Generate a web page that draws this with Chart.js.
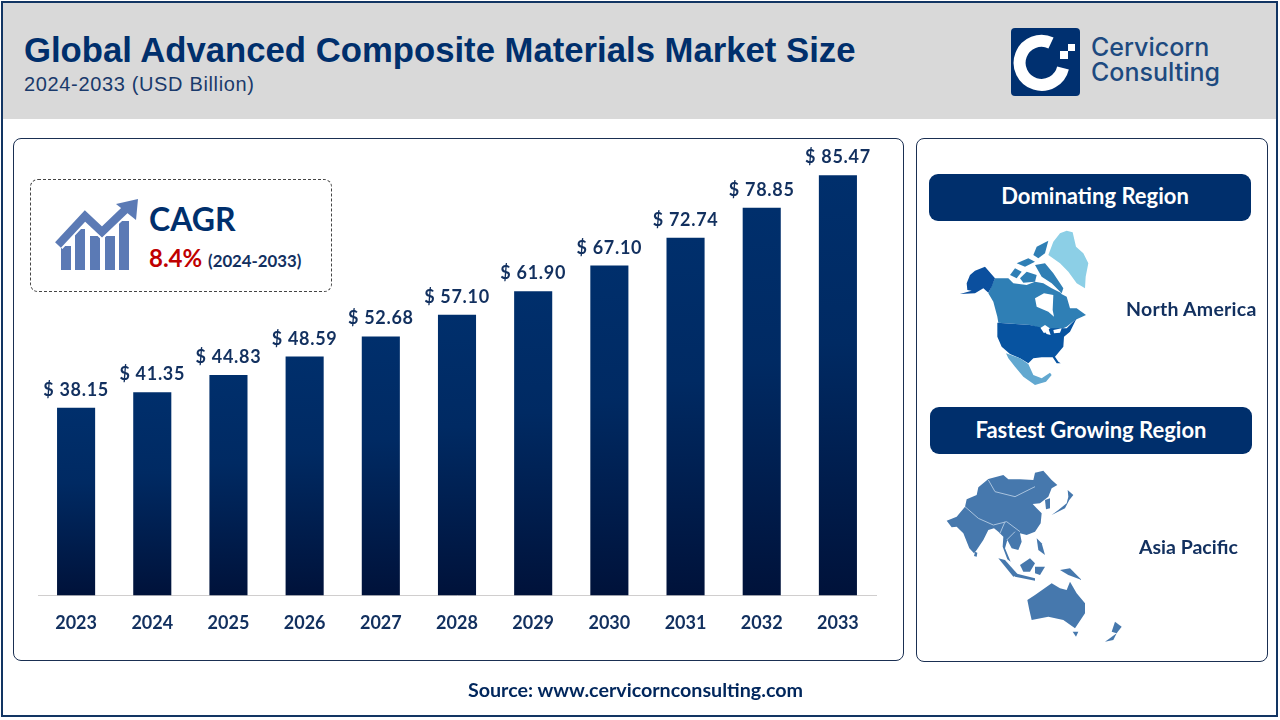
<!DOCTYPE html>
<html>
<head>
<meta charset="utf-8">
<title>Global Advanced Composite Materials Market Size</title>
<script src="https://cdn.jsdelivr.net/npm/chart.js@4"></script>
<style>
  html, body { margin: 0; padding: 0; background: #fff; }
  #page { position: relative; width: 1280px; height: 720px; overflow: hidden; background: #fff; }
  #page > * { position: absolute; box-sizing: border-box; }
  #miGrafico { left: 0; top: 0; }
  .frame { left: 1px; top: 1px; width: 1277px; height: 716px; border: 2px solid #123563; }
  .header { left: 3px; top: 3px; width: 1273px; height: 116px; background: #d9d9d9; }
  .title { left: 24px; top: 31px; font: bold 34.7px "Liberation Sans"; color: #002f6c; white-space: nowrap; }
  .subtitle { left: 24px; top: 73px; font: 20px "Liberation Sans"; letter-spacing: .65px; color: #1a3a6b; white-space: nowrap; }
  .panel { border: 1px solid #1a2f52; border-radius: 8px; }
  .left-panel { left: 13px; top: 138px; width: 891px; height: 523px; }
  .right-panel { left: 916px; top: 138px; width: 352px; height: 524px; }
  .cagr-box { left: 30px; top: 179px; width: 302px; height: 113px; border: 1px dashed #444; border-radius: 8px; }
  .cagr { left: 149px; top: 199px; font: bold 32px Lato; color: #002f6c; }
  .rate { left: 149px; top: 243px; font: bold 24px Lato; color: #c00000; }
  .rate span { font-size: 16.8px; color: #12305f; }
  .pill { height: 47px; width: 322px; background: #002f6c; border-radius: 9px; color: #fff;
          font: bold 22px/43px Lato; text-align: center; }
  .region { font: bold 19.5px Lato; letter-spacing: .25px; color: #12305f; white-space: nowrap; }
  .source { left: 0; width: 1271px; top: 678px; text-align: center; font: bold 19.7px Lato; color: #00265c; }
  .brand { left: 1091px; top: 35px; font: 500 25px/25px Inter; color: #1d4a80; }
</style>
</head>
<body>
<div id="page">
  <div class="header"></div>
  <div class="frame"></div>
  <div class="title">Global Advanced Composite Materials Market Size</div>
  <div class="subtitle">2024-2033 (USD Billion)</div>

  <svg style="left:1011px;top:28px" width="69" height="68" viewBox="0 0 69 68">
    <rect width="69" height="68" rx="4" fill="#003070"/>
    <path d="M40 15 A22 22 0 1 0 52 40" fill="none" stroke="#fff" stroke-width="12"/>
    <rect x="57" y="16" width="7" height="7" fill="#fff"/>
    <rect x="49" y="23" width="8" height="8" fill="#fff"/>
  </svg>
  <div class="brand">Cervicorn<br>Consulting</div>

  <div class="panel left-panel"></div>
  <div class="panel right-panel"></div>
  <div class="cagr-box"></div>

  <svg style="left:52px;top:196px" width="90" height="76" viewBox="0 0 90 76">
    <g fill="#5b7ab5">
      <rect x="9" y="50" width="10" height="24"/>
      <rect x="23" y="33" width="10" height="41"/>
      <rect x="38" y="40" width="10" height="34"/>
      <rect x="53" y="40" width="10" height="34"/>
      <rect x="67" y="25" width="10" height="49"/>
    </g>
    <polyline points="6,49 33,20 50,36 75,12" fill="none" stroke="#fff" stroke-width="12"/>
    <polyline points="6,49 33,20 50,36 75,12" fill="none" stroke="#5b7ab5" stroke-width="8"/>
    <polygon points="86,3 84,24 64,8" fill="#5b7ab5"/>
  </svg>
  <div class="cagr">CAGR</div>
  <div class="rate">8.4% <span>(2024-2033)</span></div>

  <canvas id="miGrafico" width="1280" height="720"></canvas>

  <div class="pill" style="left:929px;top:174px;padding-left:10px">Dominating Region</div>
  <div class="pill" style="left:930px;top:407px;line-height:45px">Fastest Growing Region</div>

  <!-- mapas aproximados -->
  <svg style="left:920px;top:0" width="360" height="400" viewBox="0 0 1080 1200">
    <path fill="#8ccfe6" d="M385 765 L400 725 L420 700 L440 692 L458 697 L468 740 L490 760 L505 790 L497 830 L495 865 L470 850 L445 815 L420 790 Z"/>
    <g fill="#2f7fb5">
      <path d="M225 835 L265 835 L280 850 L320 855 L345 845 L370 850 L395 865 L425 880 L400 890 L398 930 L402 950 L385 935 L350 920 L345 895 L372 880 L420 880 L440 890 L450 925 L470 925 L498 945 L465 960 L440 980 L405 995 L375 975 L360 985 L330 975 L235 968 L232 950 L220 905 L205 880 Z"/>
      <path d="M340 765 L350 740 L385 722 L375 760 L355 775 Z"/>
      <path d="M290 790 L325 775 L345 785 L315 800 Z"/>
      <path d="M270 825 L285 805 L305 815 L290 835 Z"/>
      <path d="M300 835 L320 815 L350 825 L345 845 L310 848 Z"/>
      <path d="M345 795 L375 790 L400 820 L430 865 L425 880 L395 850 L365 830 Z"/>
    </g>
    <path fill="#fff" d="M345 895 L372 880 L400 885 L398 930 L402 950 L385 935 L350 920 Z"/>
    <path fill="#0b4f9e" d="M140 850 L150 825 L165 812 L195 800 L225 835 L215 860 L205 878 L190 865 L165 880 L120 882 L155 872 L142 870 Z"/>
    <path fill="#0753a0" d="M232 968 L330 975 L360 982 L372 1000 L390 985 L440 985 L470 955 L450 995 L432 1010 L430 1040 L405 1070 L415 1085 L422 1090 L410 1090 L398 1072 L365 1072 L340 1075 L325 1090 L300 1075 L270 1062 L245 1040 L232 1010 Z"/>
    <path fill="#fff" d="M365 985 L385 985 L392 1005 L380 1002 Z M400 990 L425 985 L420 998 L402 1000 Z"/>
    <path fill="#62a8d0" d="M258 1060 L300 1075 L325 1092 L340 1125 L365 1135 L390 1118 L395 1125 L378 1145 L345 1155 L310 1130 L285 1100 L265 1075 Z"/>
  </svg>
  <svg style="left:920px;top:400px" width="360" height="320" viewBox="0 0 1080 960">
    <g fill="#4678ad">
      <path d="M80 362 L110 350 L135 320 L140 298 L170 285 L175 262 L205 237 L250 225 L265 238 L300 238 L340 240 L345 218 L370 212 L395 240 L412 255 L395 265 L385 290 L360 310 L338 312 L350 325 L365 340 L362 370 L345 395 L320 405 L300 400 L305 425 L295 450 L275 445 L262 420 L255 445 L272 485 L262 478 L248 440 L250 410 L235 395 L222 385 L205 390 L190 420 L170 450 L162 460 L148 445 L130 400 L110 380 L95 382 Z"/>
      <path d="M395 345 L415 330 L440 310 L445 290 L443 270 L460 285 L448 300 L435 325 Z"/>
      <path d="M375 300 L390 295 L390 325 L378 328 Z"/>
      <path d="M165 455 L172 458 L170 470 L162 468 Z"/>
      <path d="M235 475 L255 480 L295 525 L280 530 Z"/>
      <path d="M300 495 L330 475 L345 490 L330 515 L310 515 Z"/>
      <path d="M285 520 L345 535 L345 542 L285 530 Z"/>
      <path d="M345 500 L375 500 L360 525 L345 520 Z"/>
      <path d="M420 510 L450 505 L485 540 L445 525 Z"/>
      <path d="M350 415 L365 430 L375 465 L355 450 Z"/>
      <path d="M322 600 L345 585 L395 550 L420 565 L440 570 L450 545 L470 580 L495 610 L495 640 L465 685 L430 660 L385 650 L335 660 L328 630 Z"/>
      <path d="M458 695 L475 695 L468 710 Z"/>
      <path d="M585 665 L605 680 L590 700 L575 695 Z"/>
      <path d="M555 725 L590 700 L580 720 Z"/>
    </g>
    <path fill="none" stroke="#a9c3de" stroke-width="3" d="M205 240 L225 275 L285 290 L345 260 M135 320 L175 355 L220 375 L260 365 L300 395 M240 400 L255 365 M260 420 L285 395"/>
  </svg>
  <div class="region" style="left:1126px;top:297px">North America</div>
  <div class="region" style="left:1139px;top:535px;letter-spacing:0">Asia Pacific</div>
  <div class="source">Source: www.cervicornconsulting.com</div>
</div>

<script>
const years = ["2023", "2024", "2025", "2026", "2027", "2028", "2029", "2030", "2031", "2032", "2033"];
const marketSize = [38.15, 41.35, 44.83, 48.59, 52.68, 57.1, 61.9, 67.1, 72.74, 78.85, 85.47];

// Degradado propio de cada barra, de su tope a la base
function colorBarra(c) {
  const { chart, dataIndex } = c;
  if (!chart.chartArea) return "#002f6c";
  const y = chart.scales.y;
  const g = chart.ctx.createLinearGradient(0, y.getPixelForValue(marketSize[dataIndex]), 0, y.getPixelForValue(0));
  g.addColorStop(0, "#002f6c");
  g.addColorStop(0.4, "#002a63");
  g.addColorStop(1, "#00123a");
  return g;
}

const etiquetas = {
  id: "etiquetas",
  afterDatasetsDraw(chart) {
    const ctx = chart.ctx;
    ctx.save();
    ctx.font = "bold 18px Lato";
    ctx.letterSpacing = "0.7px";
    ctx.fillStyle = "#12305f";
    ctx.textAlign = "center";
    ctx.textBaseline = "alphabetic";
    chart.getDatasetMeta(0).data.forEach(function (bar, i) {
      ctx.fillText("$ " + marketSize[i].toFixed(2), bar.x, bar.y - 12);
    });
    ctx.restore();
  },
};

new Chart(document.getElementById("miGrafico").getContext("2d"), {
  type: "bar",
  data: {
    labels: years,
    datasets: [
      {
        data: marketSize,
        backgroundColor: colorBarra,
        categoryPercentage: 1,
        barPercentage: 0.5,
      },
    ],
  },
  options: {
    responsive: false,
    animation: false,
    devicePixelRatio: 1,
    layout: { padding: { left: 38, right: 404, top: 153, bottom: 77 } },
    plugins: { legend: { display: false }, tooltip: { enabled: false } },
    scales: {
      x: {
        grid: { display: false },
        border: { color: "#d0cece", width: 1 },
        ticks: { color: "#12305f", font: { family: "Lato", size: 18, weight: "bold" }, padding: 9, maxRotation: 0 },
      },
      y: { display: false, min: 0, max: 90 },
    },
  },
  plugins: [etiquetas],
});
</script>
</body>
</html>
